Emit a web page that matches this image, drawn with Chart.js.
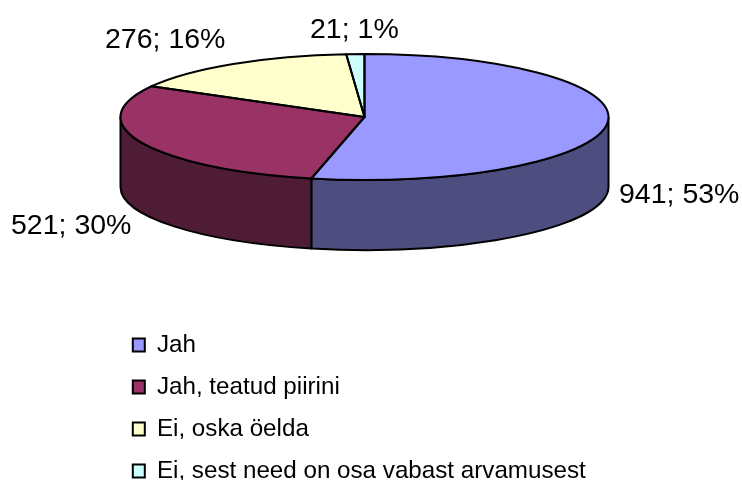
<!DOCTYPE html>
<html>
<head>
<meta charset="utf-8">
<style>
	html, body { margin: 0; padding: 0; background: #fff; }
	canvas { display: block; }
</style>
<script src="https://cdn.jsdelivr.net/npm/chart.js@4"></script>
</head>
<body>
<canvas id="myChart" width="742" height="480"></canvas>
<script>
let categories = ['Jah', 'Jah, teatud piirini', 'Ei, oska öelda', 'Ei, sest need on osa vabast arvamusest'];
let values = [941, 521, 276, 21];
let topColors = ['#9999ff', '#993366', '#ffffcc', '#ccffff'];
let wallColors = ['#4d4d80', '#4f1c35', '#80806a', '#6a8080'];

// where the pie lands on the page, chart.js only gives us the angles
let pieX = 364.5, pieY = 117, pieRx = 244, pieRy = 63, pieDepth = 70;
let labelX = [619, 11, 105, 310];
let labelY = [203, 234, 48, 38];
let legendTop = 315;

let total = values.reduce(function(a, b){ return a + b; }, 0);

let fake3d = {
	id: 'fake3d',
	afterLayout: function(chart){
		/* legend resets its own top when it is inside the chart area */
		chart.legend.top = legendTop;
		chart.legend.bottom = legendTop + chart.legend.height;
	},
	beforeDatasetsDraw: function(chart){
		let ctx = chart.ctx;
		let arcs = chart.getDatasetMeta(0).data;

		/* side wall, only the front half shows */
		ctx.lineWidth = 2;
		ctx.strokeStyle = '#000';
		ctx.lineJoin = 'round';
		arcs.forEach(function(arc, i){
			let a0 = Math.max(arc.startAngle, 0);
			let a1 = Math.min(arc.endAngle, Math.PI);
			if(a1 <= a0) return;
			ctx.beginPath();
			ctx.ellipse(pieX, pieY, pieRx, pieRy, 0, a0, a1);
			ctx.ellipse(pieX, pieY + pieDepth, pieRx, pieRy, 0, a1, a0, true);
			ctx.closePath();
			ctx.fillStyle = wallColors[i];
			ctx.fill();
			ctx.stroke();
		});

		/* squash the round pie into the top ellipse */
		let r = arcs[0].outerRadius;
		ctx.save();
		ctx.translate(pieX, pieY);
		ctx.scale(pieRx / r, pieRy / r);
		ctx.translate(-arcs[0].x, -arcs[0].y);
	},
	afterDatasetsDraw: function(chart){
		let ctx = chart.ctx;
		let arcs = chart.getDatasetMeta(0).data;
		ctx.restore();

		ctx.lineWidth = 2;
		ctx.strokeStyle = '#000';
		ctx.lineJoin = 'round';
		arcs.forEach(function(arc){
			ctx.beginPath();
			ctx.moveTo(pieX, pieY);
			ctx.ellipse(pieX, pieY, pieRx, pieRy, 0, arc.startAngle, arc.endAngle);
			ctx.closePath();
			ctx.stroke();
		});

		ctx.fillStyle = '#000';
		ctx.font = '28.5px "Liberation Sans"';
		ctx.textAlign = 'left';
		ctx.textBaseline = 'alphabetic';
		values.forEach(function(v, i){
			ctx.fillText(v + '; ' + Math.round(v / total * 100) + '%', labelX[i], labelY[i]);
		});
	}
};

let myChart = new Chart(document.getElementById('myChart'), {
	type: 'pie',
	data: {
		labels: categories,
		datasets: [{
			data: values,
			backgroundColor: topColors,
			borderWidth: 0
		}]
	},
	options: {
		responsive: false,
		animation: false,
		layout: { padding: { left: 115, top: 0, right: 0, bottom: 0 } },
		plugins: {
			tooltip: { enabled: false },
			legend: {
				position: 'chartArea',
				align: 'start',
				labels: {
					boxWidth: 12,
					boxHeight: 13,
					padding: 17.8,
					color: '#000',
					font: { family: '"Liberation Sans"', size: 24.2 },
					generateLabels: function(chart){
						return categories.map(function(name, i){
							return {
								text: name,
								fillStyle: topColors[i],
								strokeStyle: '#000',
								lineWidth: 2,
								index: i
							};
						});
					}
				}
			}
		}
	},
	plugins: [fake3d]
});
</script>
</body>
</html>
